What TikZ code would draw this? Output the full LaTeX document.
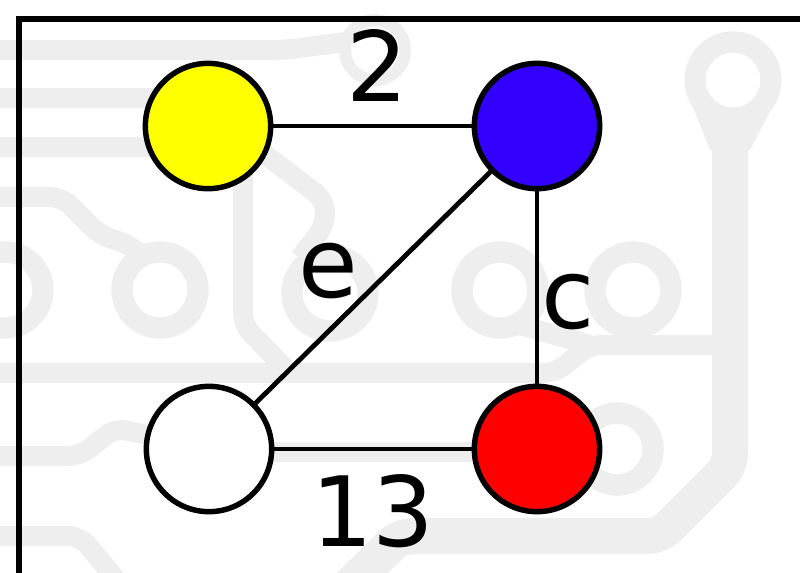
\documentclass[tikz,border=0pt]{standalone}
\usepackage{fontspec}
\setmainfont{DejaVu Sans}
\definecolor{bgtrace}{RGB}{238,238,238}
\definecolor{yellowv}{RGB}{255,255,0}
\definecolor{bluev}{RGB}{51,0,255}
\definecolor{redv}{RGB}{255,0,0}
\tikzset{
  trace/.style={draw=bgtrace, line width=15pt, line join=round, rounded corners=9pt},
  pad/.style={draw=bgtrace, line width=16pt, fill=white},
  vertex/.style={circle, draw=black, line width=4.1pt, minimum size=94pt, inner sep=0pt},
  edge/.style={draw=black, line width=3.6pt},
  lbl/.style={inner sep=0pt, font=\fontsize{72.75pt}{80pt}\selectfont},
  frame/.style={draw=black, line width=4.5pt}
}
\begin{document}
\begin{tikzpicture}[x=0.75pt,y=0.75pt,yscale=-1,xscale=1]
\useasboundingbox (0,0) rectangle (800,572);
\clip (0,0) rectangle (800,572);

%Background: board traces
\draw[trace] (-20,50) -- (285,50) -- (345,42);
\draw[trace] (-20,98) -- (170,98);
\draw[trace] (-20,147) -- (255,147) -- (325,200) -- (325,225) -- (300,258);
\draw[trace] (243,150) -- (243,325) -- (290,373);
\draw[trace] (-20,373) -- (555,373) -- (590,345) -- (730,345);
\draw[trace] (520,325) -- (590,345);
\draw[trace] (-20,197) -- (62,197) -- (100,235) -- (130,245) -- (150,262);
\draw[trace] (-20,456) -- (80,456) -- (115,428) -- (170,440) -- (208,449);
\draw[trace] (208,452) -- (615,452);
\draw[trace] (-20,536) -- (80,536) -- (125,590);
\draw[trace, line width=27pt] (335,600) -- (400,536) -- (660,536) -- (730,466) -- (730,130);
\fill[bgtrace] (690,100) -- (776,100) -- (750,150) -- (710,150) -- cycle;

%Background: pads
\draw[pad] (5,290) circle [radius=38];
\draw[pad] (160,290) circle [radius=38];
\draw[pad] (330,293) circle [radius=38];
\draw[pad] (500,290) circle [radius=38];
\draw[pad] (633,290) circle [radius=38];
\draw[pad, line width=9pt] (375,50) circle [radius=30];
\draw[pad] (617,449) circle [radius=36];
\draw[pad] (733,80) circle [radius=38];

%Frame
\draw[frame] (19,600) -- (19,19) -- (820,19);

%Vertices
\node[vertex, fill=yellowv] (yellow) at (208,126) {};
\node[vertex, fill=bluev] (blue) at (537,126) {};
\node[vertex, fill=white] (white) at (209,449) {};
\node[vertex, fill=redv] (red) at (537,449) {};

%Edges
\draw[edge] (yellow) -- (blue) node[lbl, midway, above=16.5pt, xshift=3.75pt] {2};
\draw[edge] (blue) -- (white) node[lbl, midway, xshift=-33.5pt, yshift=12.4pt] {e};
\draw[edge] (blue) -- (red) node[lbl, midway, xshift=23.25pt, yshift=-10.9pt] {c};
\draw[edge] (white) -- (red) node[lbl, midway, below=17.25pt] {13};

\end{tikzpicture}
\end{document}
